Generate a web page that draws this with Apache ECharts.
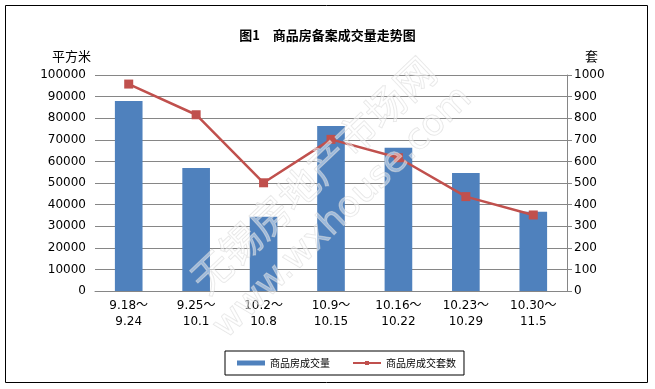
<!DOCTYPE html>
<html><head><meta charset="utf-8">
<script src="https://cdn.jsdelivr.net/npm/echarts@6/dist/echarts.min.js"></script>
<style>html,body{margin:0;padding:0;background:#fff}#c{width:655px;height:389px}</style>
</head><body><div id="c"></div>
<script>
var categories = ['9.18～\n9.24','9.25～\n10.1','10.2～\n10.8','10.9～\n10.15','10.16～\n10.22','10.23～\n10.29','10.30～\n11.5'];
var areaValues = [88000, 56900, 34400, 76400, 66300, 54600, 36700];
var unitValues = [958, 816, 501, 702, 617, 437, 352];
var leftTicks = {min:0, max:100000, interval:10000};
var rightTicks = {min:0, max:1000, interval:100};
var font = 'DejaVu Sans, Noto Sans CJK SC';
var chart = echarts.init(document.getElementById('c'), null, {renderer:'canvas'});
chart.setOption({
  animation:false,
  backgroundColor:'#fff',
  title:{text:'图1　商品房备案成交量走势图', left:'center', top:24, textStyle:{fontSize:13, fontWeight:'bold', color:'#000', fontFamily:'Noto Sans CJK SC'}},
  grid:{left:95, right:88, top:75, bottom:98},
  legend:{show:true, bottom:14, left:225, itemGap:22, itemWidth:28, itemHeight:5,
    padding:[7,8,7,12], borderColor:'#000', borderWidth:1,
    textStyle:{fontSize:10, color:'#000', fontFamily:'Noto Sans CJK SC'},
    data:[{name:'商品房成交量', icon:'rect'}, {name:'商品房成交套数'}]},
  graphic:[
    {type:'rect', shape:{x:5.5,y:5.5,width:642,height:377}, style:{fill:null, stroke:'#000', lineWidth:1}, silent:true, z:-1},
    {type:'text', x:313, y:175, rotation:0.76, style:{text:'无锡房地产市场网', fontSize:40, fill:'rgba(255,255,255,0.45)', stroke:'rgba(205,205,205,0.55)', lineWidth:1, fontFamily:'Noto Sans CJK SC', textAlign:'center', textVerticalAlign:'middle'}, z:100, silent:true},
    {type:'text', x:343, y:213, rotation:0.77, style:{text:'www.wxhouse.com', fontSize:36, fill:'rgba(255,255,255,0.45)', stroke:'rgba(205,205,205,0.55)', lineWidth:1, fontFamily:'DejaVu Sans', textAlign:'center', textVerticalAlign:'middle'}, z:100, silent:true}
  ],
  xAxis:{type:'category', data:categories,
    axisLine:{lineStyle:{color:'#868686'}}, axisTick:{show:false},
    axisLabel:{color:'#000', fontSize:12, fontFamily:font, lineHeight:16, margin:7, interval:0}},
  yAxis:[
    {type:'value', min:leftTicks.min, max:leftTicks.max, interval:leftTicks.interval,
     name:'平方米', nameLocation:'end', nameGap:12, nameTextStyle:{color:'#000', fontSize:13, fontFamily:'Noto Sans CJK SC', align:'right', padding:[0,4,0,0]},
     axisLine:{show:false}, axisTick:{show:false},
     splitLine:{lineStyle:{color:'#868686', width:1}},
     axisLabel:{color:'#000', fontSize:12, fontFamily:font, margin:9, formatter:function(v){return String(v);}}},
    {type:'value', min:rightTicks.min, max:rightTicks.max, interval:rightTicks.interval,
     name:'套', nameLocation:'end', nameGap:12, nameTextStyle:{color:'#000', fontSize:13, fontFamily:'Noto Sans CJK SC', align:'left', padding:[0,0,0,18]},
     axisLine:{show:true, lineStyle:{color:'#868686'}}, axisTick:{show:true, length:5, lineStyle:{color:'#868686'}},
     splitLine:{show:false},
     axisLabel:{color:'#000', fontSize:12, fontFamily:font, margin:7, formatter:function(v){return String(v);}}}
  ],
  series:[
    {name:'商品房成交量', type:'bar', data:areaValues, barWidth:'41%', itemStyle:{color:'#4F81BD'}, yAxisIndex:0},
    {name:'商品房成交套数', type:'line', data:unitValues, yAxisIndex:1, symbol:'rect', symbolSize:9,
     lineStyle:{color:'#C0504D', width:2.5}, itemStyle:{color:'#C0504D'}}
  ]
});
</script></body></html>
